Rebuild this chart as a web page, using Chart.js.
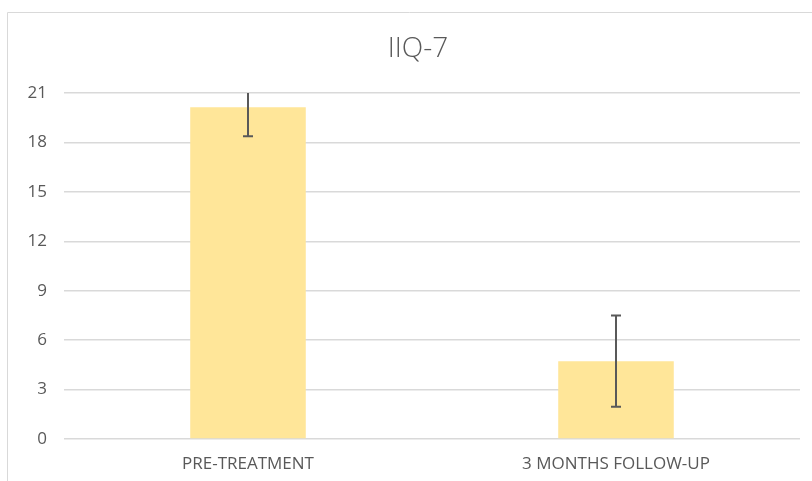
<!DOCTYPE html>
<html>
<head>
<meta charset="utf-8">
<script src="https://cdn.jsdelivr.net/npm/chart.js@4.4.1/dist/chart.umd.min.js"></script>
<style>
  html, body { margin: 0; padding: 0; background: #fff; }
  #wrap { width: 812px; height: 481px; }
</style>
</head>
<body>
<div id="wrap"><canvas id="chart" width="812" height="481"></canvas></div>
<script>
const categories = ["PRE-TREATMENT", "3 MONTHS FOLLOW-UP"];
const meanValues = [20.14, 4.72];
const errorValues = [1.77, 2.77];
const yTicks = [0, 3, 6, 9, 12, 15, 18, 21];

const textColor = "#595959";

// outer frame of the chart (cropped at right and bottom)
const framePlugin = {
    id: "frame",
    beforeDraw(chart) {
        const ctx = chart.ctx;
        ctx.save();
        ctx.strokeStyle = "#d9d9d9";
        ctx.lineWidth = 1;
        ctx.beginPath();
        ctx.moveTo(7.5, 481);
        ctx.lineTo(7.5, 12.5);
        ctx.lineTo(812, 12.5);
        ctx.stroke();
        ctx.restore();
    }
};

// title drawn at fixed spot
const titlePlugin = {
    id: "titleText",
    afterDraw(chart) {
        const ctx = chart.ctx;
        ctx.save();
        ctx.fillStyle = textColor;
        ctx.font = "300 28px 'Open Sans', sans-serif";
        ctx.textAlign = "center";
        ctx.textBaseline = "middle";
        ctx.fillText("IIQ-7", 418, 49);
        ctx.restore();
    }
};

// symmetric error bars, clipped to the plot area
const errorBarPlugin = {
    id: "errorBars",
    afterDatasetsDraw(chart) {
        const ctx = chart.ctx;
        const area = chart.chartArea;
        const x = chart.scales.x;
        const y = chart.scales.y;
        ctx.save();
        ctx.beginPath();
        ctx.rect(area.left, area.top, area.right - area.left, area.bottom - area.top);
        ctx.clip();
        ctx.strokeStyle = "#595959";
        ctx.lineWidth = 2;
        meanValues.forEach((v, i) => {
            const cx = Math.round(x.getPixelForValue(i));
            const top = y.getPixelForValue(v + errorValues[i]);
            const bot = y.getPixelForValue(v - errorValues[i]);
            ctx.beginPath();
            ctx.moveTo(cx, top);
            ctx.lineTo(cx, bot);
            ctx.moveTo(cx - 5, top);
            ctx.lineTo(cx + 5, top);
            ctx.moveTo(cx - 5, bot);
            ctx.lineTo(cx + 5, bot);
            ctx.stroke();
        });
        ctx.restore();
    }
};

const ctx = document.getElementById("chart").getContext("2d");
new Chart(ctx, {
    type: "bar",
    data: {
        labels: categories,
        datasets: [{
            data: meanValues,
            backgroundColor: "#ffe699",
            borderWidth: 0,
            barPercentage: 1,
            categoryPercentage: 0.314
        }]
    },
    options: {
        responsive: false,
        animation: false,
        layout: { padding: { left: 0, right: 12, top: 93, bottom: 0 } },
        plugins: {
            legend: { display: false },
            title: { display: false },
            tooltip: { enabled: false }
        },
        scales: {
            x: {
                grid: { display: false, drawTicks: false },
                border: { display: false },
                ticks: {
                    color: textColor,
                    font: { family: "'Open Sans', sans-serif", size: 17 },
                    padding: 15,
                    maxRotation: 0
                },
                afterFit(scale) { scale.height = 42; }
            },
            y: {
                min: 0,
                max: 21,
                afterBuildTicks(scale) {
                    scale.ticks = yTicks.map(v => ({ value: v }));
                },
                grid: { color: "#d9d9d9", lineWidth: 1.5, drawTicks: false },
                border: { display: false },
                ticks: {
                    color: textColor,
                    font: { family: "'Open Sans', sans-serif", size: 17 },
                    padding: 17
                },
                afterFit(scale) { scale.width = 64; }
            }
        }
    },
    plugins: [framePlugin, titlePlugin, errorBarPlugin]
});
</script>
</body>
</html>
